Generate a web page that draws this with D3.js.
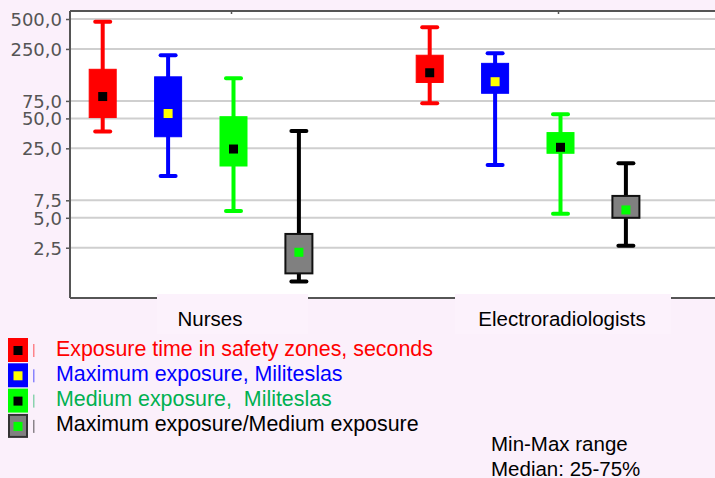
<!DOCTYPE html>
<meta charset="utf-8">
<style>
body { margin: 0; background: #fbf0fb; }
svg { display: block; font-family: "Liberation Sans", Arial, sans-serif; }
.tick-lbl { font-family: "DejaVu Sans", sans-serif; font-size: 18px; fill: #555; }
.legend-text { white-space: pre; }
</style>
<svg width="715" height="478"></svg>
<script src="https://d3js.org/d3.v7.min.js"></script>
<script>

// groups on the x axis
var categories = ["Nurses", "Electroradiologists"];

// one box per series, values per category (nurses, electroradiologists)
var seriesNames = [
  "Exposure time in safety zones, seconds",
  "Maximum exposure, Militeslas",
  "Medium exposure,  Militeslas",
  "Maximum exposure/Medium exposure"
];
var minVals    = [[37, 71], [13.2, 17], [5.85, 5.5], [1.14, 2.62]];
var q1Vals     = [[51, 115], [32.7, 89.5], [16.6, 22.3], [1.38, 5.0]];
var medianVals = [[83, 144], [56, 117], [24.6, 25.6], [2.25, 6.0]];
var q3Vals     = [[156, 216], [131, 179], [52, 36], [3.44, 8.3]];
var maxVals    = [[470, 412], [216, 226], [127, 55], [37.3, 17.7]];

var yTicks = [2.5, 5, 7.5, 25, 50, 75, 250, 500];

// colours: box fill, whisker, median marker, legend text
var boxFill   = ["#ff0000", "#0000ff", "#00ff00", "#808080"];
var whiskerCol = ["#ff0000", "#0000ff", "#00ff00", "#000000"];
var medianCol = ["#000000", "#ffff00", "#000000", "#00ff00"];
var textCol   = ["#ff0000", "#0000ff", "#00b050", "#000000"];

var svg = d3.select("svg"),
    W = +svg.attr("width"), H = +svg.attr("height");

var plot = {left: 70, top: 11, right: 724, bottom: 298};

var x = d3.scaleBand().domain(categories).range([plot.left, plot.right]);
// 5 slots per group, last one left empty (like the original)
var slot = d3.scaleBand().domain(d3.range(5)).range([0, x.bandwidth()]);
var y = d3.scaleLog().domain([0.78, 602]).range([plot.bottom, plot.top]);

// white plot area
svg.append("rect")
    .attr("x", plot.left).attr("y", plot.top)
    .attr("width", W - plot.left).attr("height", plot.bottom - plot.top)
    .attr("fill", "#fff");

// grid
svg.append("g").selectAll("line")
  .data(yTicks).enter().append("line")
    .attr("x1", plot.left).attr("x2", W)
    .attr("y1", function(d) { return y(d); })
    .attr("y2", function(d) { return y(d); })
    .attr("stroke", "#cfcfcf").attr("stroke-width", 2);

// left axis with comma decimal labels
var yAxis = svg.append("g")
    .attr("transform", "translate(" + plot.left + ",0)")
    .call(d3.axisLeft(y).tickValues(yTicks).tickSize(4).tickPadding(4)
      .tickFormat(function(d) { return d3.format(".1f")(d).replace(".", ","); }));
yAxis.select(".domain").remove();
yAxis.selectAll(".tick line").attr("stroke", "#555").attr("stroke-width", 1.5);
yAxis.selectAll(".tick text").attr("class", "tick-lbl").attr("font-size", null)
    .attr("font-family", null).attr("fill", null)
    .attr("dy", "0.36em");

// frame lines: left, top, bottom
svg.append("line").attr("x1", plot.left).attr("x2", plot.left)
    .attr("y1", plot.top).attr("y2", plot.bottom)
    .attr("stroke", "#555").attr("stroke-width", 2);
svg.append("line").attr("x1", plot.left).attr("x2", W)
    .attr("y1", plot.top).attr("y2", plot.top)
    .attr("stroke", "#555").attr("stroke-width", 2);
svg.append("line").attr("x1", plot.left).attr("x2", W)
    .attr("y1", plot.bottom).attr("y2", plot.bottom)
    .attr("stroke", "#555").attr("stroke-width", 2);

// small category ticks on top
categories.forEach(function(c) {
  var cx = x(c) + x.bandwidth() / 2 - 2;
  svg.append("line").attr("x1", cx).attr("x2", cx)
      .attr("y1", plot.top).attr("y2", plot.top + 3)
      .attr("stroke", "#555").attr("stroke-width", 1.5);
});

// category labels with their own background boxes over the bottom axis
var catLabelBox = [{x0: 157, x1: 308, tx: 210}, {x0: 455, x1: 671, tx: 562}];
categories.forEach(function(c, i) {
  var b = catLabelBox[i];
  svg.append("rect")
      .attr("x", b.x0).attr("y", plot.bottom - 4)
      .attr("width", b.x1 - b.x0).attr("height", 40)
      .attr("fill", "#fcf2fc");
  svg.append("text")
      .attr("x", b.tx).attr("y", 326)
      .attr("text-anchor", "middle")
      .attr("font-size", 20.5)
      .attr("fill", "#000")
      .text(c);
});

// boxes
var boxW = 27, capW = 15;
seriesNames.forEach(function(name, s) {
  var g = svg.append("g");
  categories.forEach(function(c, ci) {
    var cx = x(c) + slot(s) + slot.bandwidth() / 2;
    // whisker
    g.append("line")
        .attr("x1", cx).attr("x2", cx)
        .attr("y1", y(minVals[s][ci])).attr("y2", y(maxVals[s][ci]))
        .attr("stroke", whiskerCol[s]).attr("stroke-width", 4);
    [minVals[s][ci], maxVals[s][ci]].forEach(function(v) {
      g.append("line")
          .attr("x1", cx - capW / 2).attr("x2", cx + capW / 2)
          .attr("y1", y(v)).attr("y2", y(v))
          .attr("stroke", whiskerCol[s]).attr("stroke-width", 4)
          .attr("stroke-linecap", "round");
    });
    // box
    g.append("rect")
        .attr("x", cx - boxW / 2)
        .attr("y", y(q3Vals[s][ci]))
        .attr("width", boxW)
        .attr("height", y(q1Vals[s][ci]) - y(q3Vals[s][ci]))
        .attr("fill", boxFill[s])
        .attr("stroke", s === 3 ? "#111" : boxFill[s])
        .attr("stroke-width", s === 3 ? 2 : 1);
    // median
    g.append("rect")
        .attr("x", cx - 4.5).attr("y", y(medianVals[s][ci]) - 4.5)
        .attr("width", 9).attr("height", 9)
        .attr("fill", medianCol[s]);
  });
});

// legend
var legend = svg.append("g").selectAll("g")
  .data(seriesNames).enter().append("g")
    .attr("transform", function(d, i) { return "translate(0," + (338 + i * 25.3) + ")"; });

legend.append("rect")
    .attr("x", 9).attr("y", 1).attr("width", 18).attr("height", 22)
    .attr("fill", function(d, i) { return boxFill[i]; })
    .attr("stroke", function(d, i) { return i === 3 ? "#333" : boxFill[i]; })
    .attr("stroke-width", 2);
legend.append("rect")
    .attr("x", 13.5).attr("y", 8).attr("width", 9).attr("height", 9)
    .attr("fill", function(d, i) { return medianCol[i]; });
// clipped remnant of the legend glyph
legend.append("rect")
    .attr("x", 33).attr("y", 6).attr("width", 1.5).attr("height", 13)
    .attr("fill", function(d, i) { return textCol[i]; })
    .attr("opacity", 0.45);
legend.append("text")
    .attr("class", "legend-text")
    .attr("x", 56).attr("y", 17.5)
    .attr("font-size", 21.4)
    .attr("fill", function(d, i) { return textCol[i]; })
    .text(function(d) { return d; });

// note
svg.append("text").attr("x", 491).attr("y", 451)
    .attr("font-size", 20.5).attr("fill", "#000").text("Min-Max range");
svg.append("text").attr("x", 491).attr("y", 476)
    .attr("font-size", 20.5).attr("fill", "#000").text("Median: 25-75%");

</script>
